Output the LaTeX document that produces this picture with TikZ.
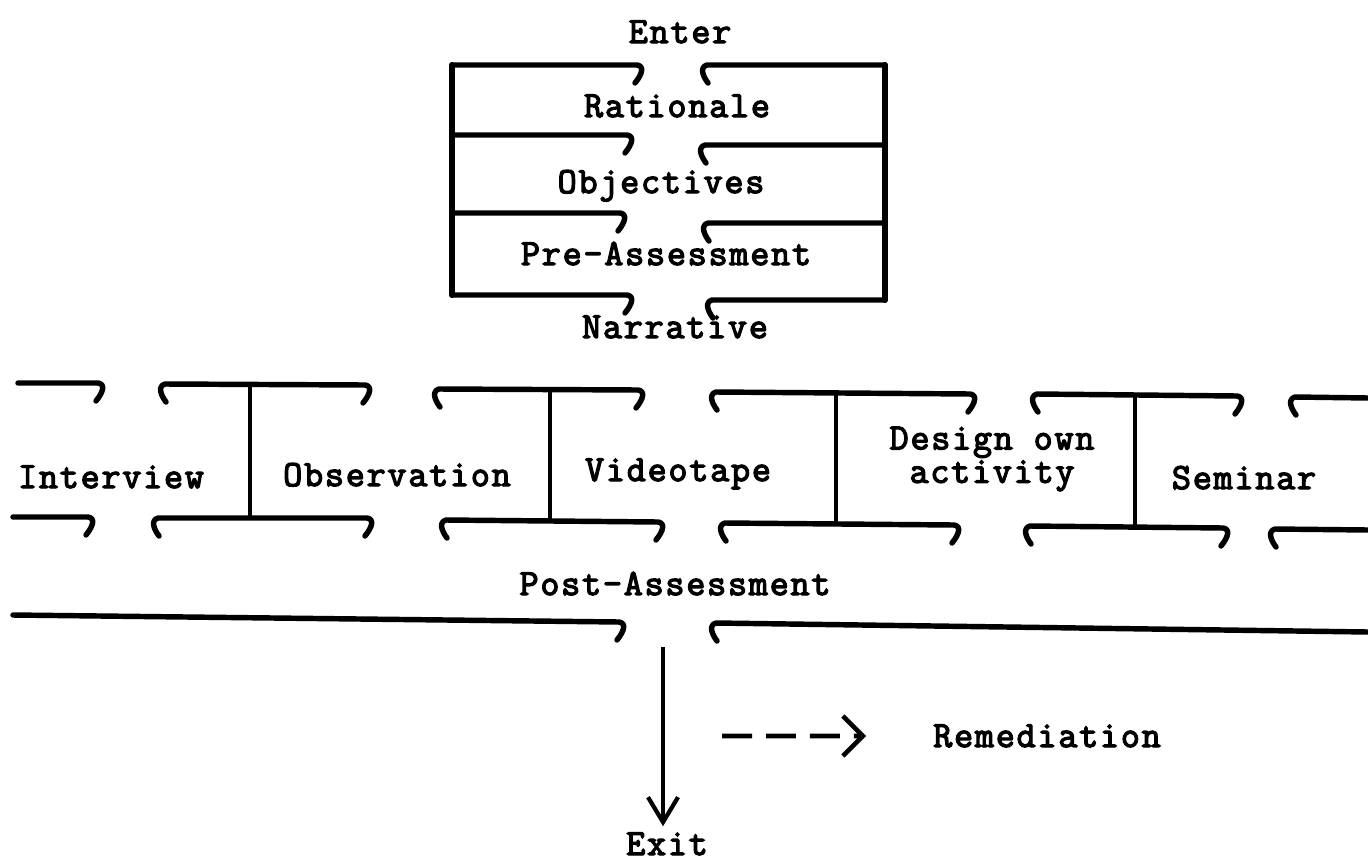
\documentclass[tikz,border=0pt]{standalone}
\usepackage{fontspec}
\setmonofont{Latin Modern Mono}[FakeBold=3.5, LetterSpace=5]
\usetikzlibrary{arrows.meta}

\begin{document}
\begin{tikzpicture}[
    x=0.02cm, y=-0.02cm,
    txt/.style={font=\fontsize{21}{19}\selectfont\ttfamily, anchor=base},
    rule/.style={line width=3.1pt, line cap=round, line join=round},
    side/.style={line width=3.4pt, line cap=round},
    divider/.style={line width=2.2pt},
    exitarrow/.style={-{Straight Barb[length=5mm,width=6mm]}, line width=2.4pt},
    remarrow/.style={-{Straight Barb[length=4mm,width=8mm]}, line width=2.6pt, dash pattern=on 0.6cm off 0.28cm}
]
\useasboundingbox (0,0) rectangle (1368,862);

% entry block
\node (enter) [txt] at (680,43) {Enter};
\node (rationale) [txt] at (677,117) {Rationale};
\node (objectives) [txt] at (661,193) {Objectives};
\node (preassess) [txt] at (666,265) {Pre-Assessment};
\node (narrative) [txt] at (675,338) {Narrative};

\draw [side] (452,65) -- (452,295);
\draw [side] (885,65) -- (885,300);
\foreach \b/\y in {642/65, 632/135, 625/213, 632/295}
    \draw [rule] (452,\y) -- (\b-5,\y) .. controls (\b+2,\y+1) and (\b+1,\y+8) .. (\b-7,\y+18);
\foreach \a/\y in {702/65, 700/145, 703/223, 707/300}
    \draw [rule] (\a+6,\y+18) .. controls (\a,\y+10) and (\a-2,\y+2) .. (\a+5,\y) -- (885,\y);

% activity row
\node (interview) [txt] at (111,488) {Interview};
\node (observation) [txt] at (397,486) {Observation};
\node (videotape) [txt] at (678,481) {Videotape};
\node (design) [txt, anchor=center, align=center] at (992,459) {Design own\\activity};
\node (seminar) [txt] at (1244,489) {Seminar};

% hooked rules, both ends
\foreach \a/\b/\y/\z in {160/370/384/385, 434/643/389/390, 711/975/392/394, 1032/1242/394/396,
                         153/372/518/518, 441/663/520/522, 720/959/523/525, 1025/1228/526/528}
    \draw [rule] (\a+6,\y+18) .. controls (\a,\y+10) and (\a-2,\y+2) .. (\a+5,\y)
        -- (\b-5,\z) .. controls (\b+2,\z+1) and (\b+1,\z+8) .. (\b-7,\z+18);
% open ends at the margins
\foreach \a/\b/\y/\z in {18/103/383/383, 13/93/517/517, 13/624/615/622}
    \draw [rule] (\a,\y) -- (\b-5,\z) .. controls (\b+2,\z+1) and (\b+1,\z+8) .. (\b-7,\z+18);
\foreach \a/\b/\y/\z in {1290/1368/397/398, 1270/1368/529/530, 711/1368/623/632}
    \draw [rule] (\a+6,\y+18) .. controls (\a,\y+10) and (\a-2,\y+2) .. (\a+5,\y) -- (\b,\z);

\draw [divider] (250,385) -- (250,518);
\draw [divider] (550,390) -- (550,521);
\draw [divider] (836,393) -- (836,524);
\draw [divider] (1135,395) -- (1135,527);

% leaving the module
\node (postassess) [txt] at (675,595) {Post-Assessment};
\node (exit) [txt] at (667,855) {Exit};
\node (remediation) [txt] at (1047,747) {Remediation};
\coordinate (out) at (663,647);
\coordinate (remfrom) at (722,736);

\draw [exitarrow] (out) -- (out |- exit.north);
\draw [remarrow, shorten >=1.22cm] (remfrom) -- (remediation.west);

\end{tikzpicture}
\end{document}
